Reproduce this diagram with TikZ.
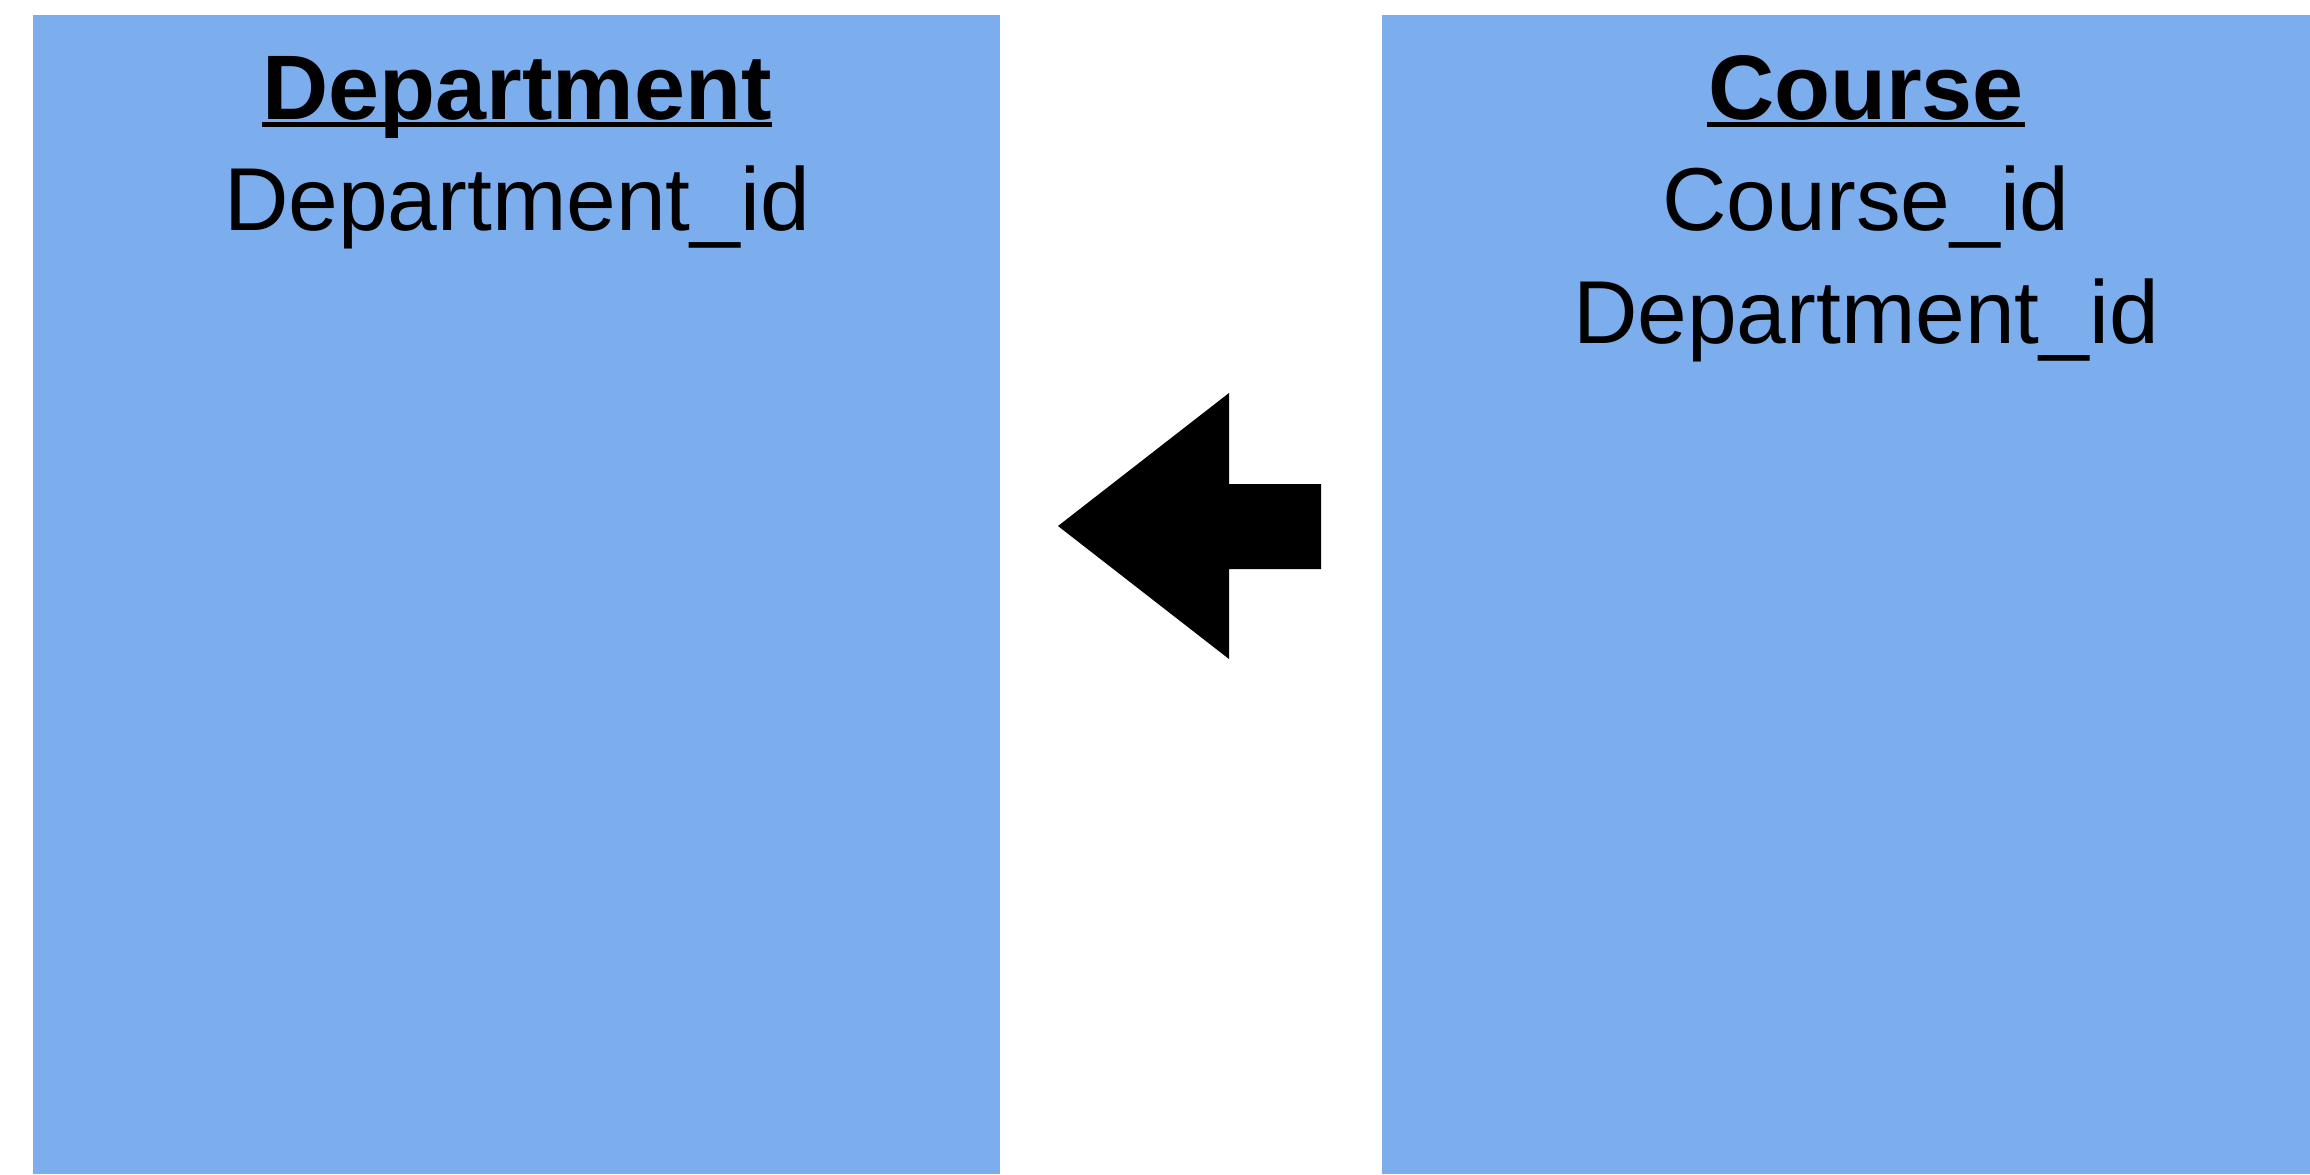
\documentclass[tikz,border=0pt]{standalone}
\usepackage{fontspec}
\setmainfont{Liberation Sans}

\definecolor{tableblue}{RGB}{124,173,237}
\tikzset{
  tabletitle/.style={font=\bfseries\fontsize{27.5}{33}\selectfont, inner sep=0pt, anchor=base},
  tablefield/.style={font=\fontsize{26.8}{32}\selectfont, inner sep=0pt, anchor=base},
  titleline/.style={line width=1.7pt}
}

\begin{document}
\begin{tikzpicture}[x=0.3pt,y=-0.3pt]
\useasboundingbox (0,0) rectangle (2310,1174);

%tables
\fill[tableblue] (33,15) rectangle (1000,1174);
\fill[tableblue] (1382,15) rectangle (2310,1174);

\node[tabletitle] (depttitle) at (517,119) {Department};
\node[tablefield] (deptid) at (517,230) {Department\_id};

\node[tabletitle] (coursetitle) at (1866,119) {Course};
\node[tablefield] (courseid) at (1866,230) {Course\_id};
\node[tablefield] (coursedept) at (1866,343) {Department\_id};

\draw[titleline] ([yshift=-1.6pt]depttitle.base west) -- ([yshift=-1.6pt]depttitle.base east);
\draw[titleline] ([yshift=-1.6pt]coursetitle.base west) -- ([yshift=-1.6pt]coursetitle.base east);

%block arrow, course -> department
\fill[black] (1058,526) -- (1229,393) -- (1229,484) -- (1321,484) -- (1321,569)
  -- (1229,569) -- (1229,659) -- cycle;

\end{tikzpicture}
\end{document}
